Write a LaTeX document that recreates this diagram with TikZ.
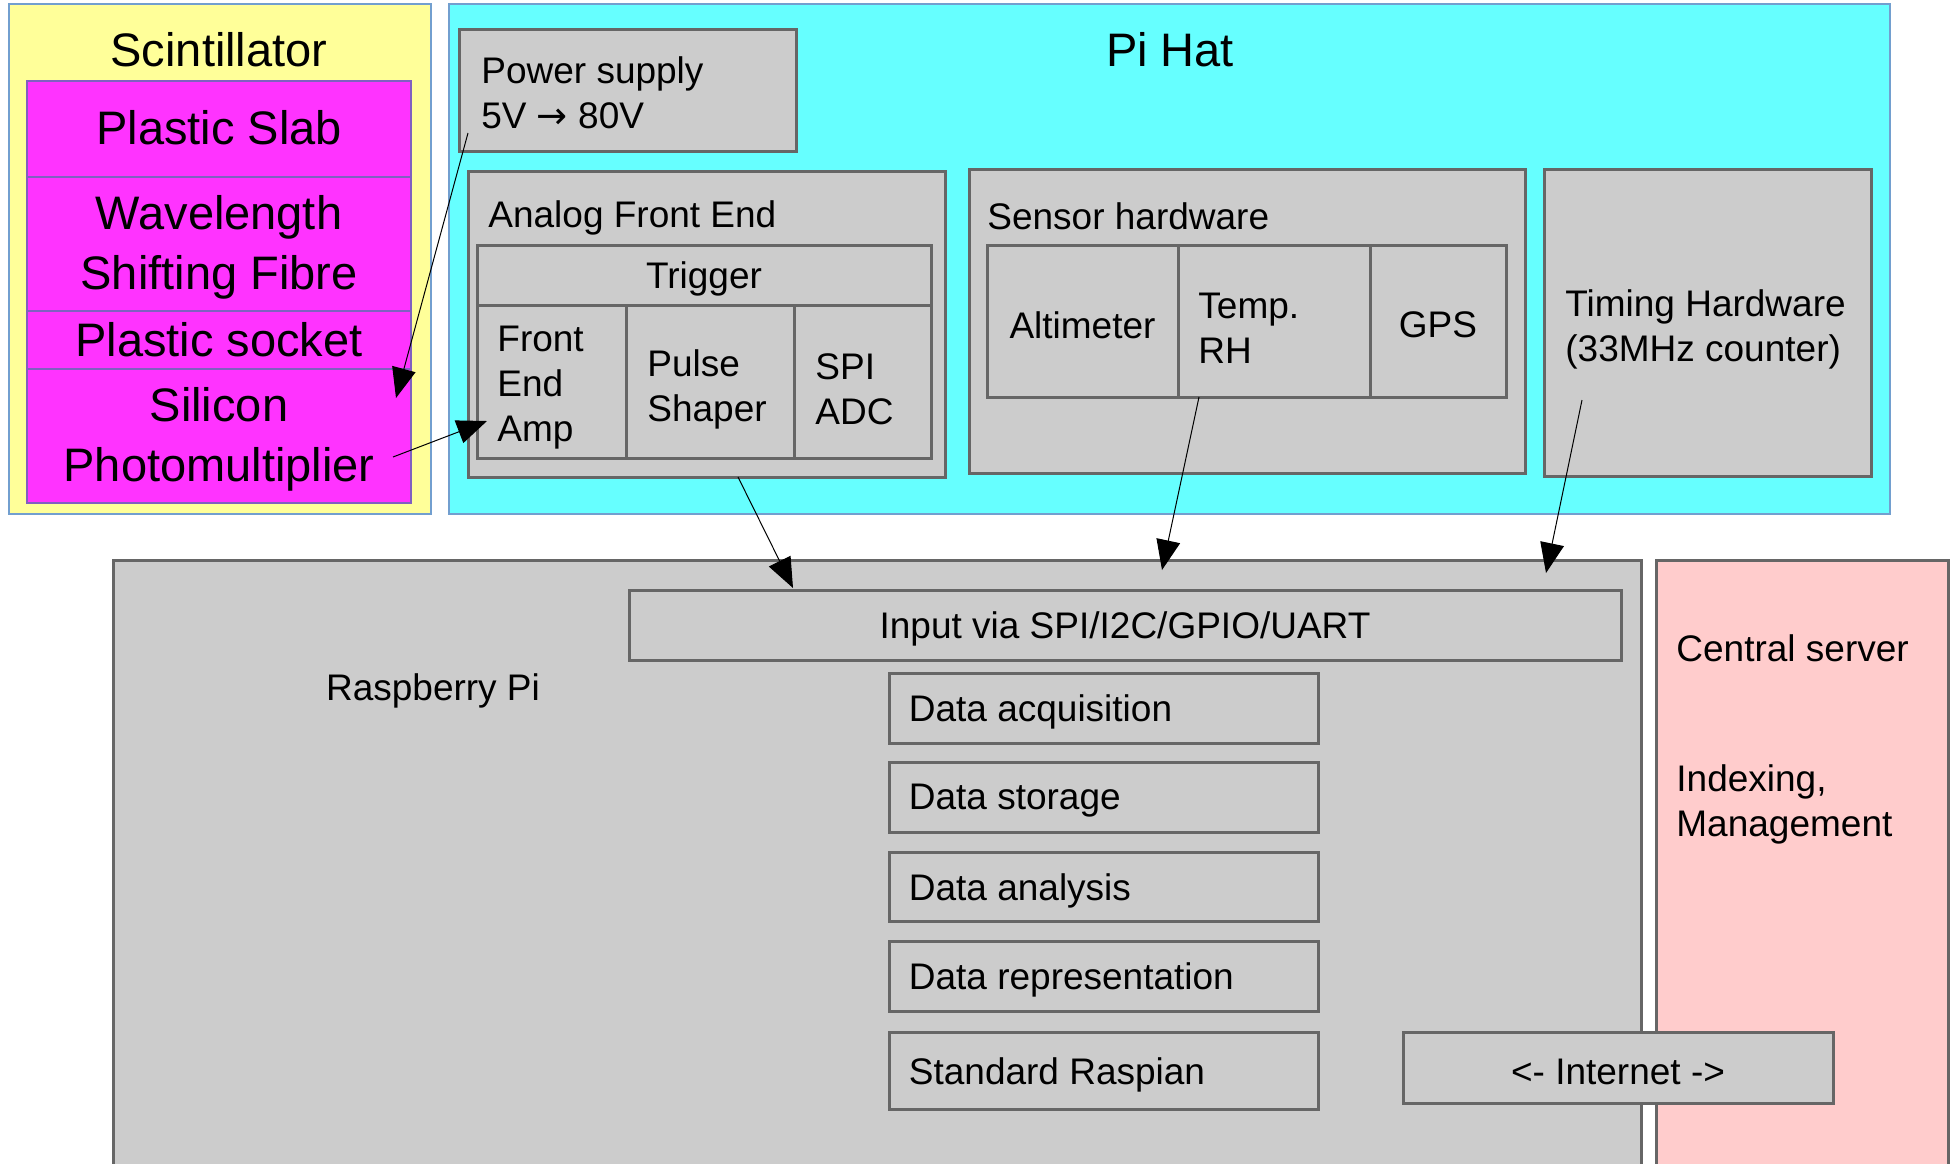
\documentclass[tikz,border=0pt]{standalone}
\usepackage{fontspec}
\setmainfont{Liberation Sans}
\newfontfamily\arrowfont{DejaVu Sans}
\usetikzlibrary{arrows.meta,fit,positioning}

\definecolor{scint}{HTML}{FFFF99}
\definecolor{hat}{HTML}{66FFFF}
\definecolor{slab}{HTML}{FF33FF}
\definecolor{boxgrey}{HTML}{CCCCCC}
\definecolor{edgegrey}{HTML}{666666}
\definecolor{server}{HTML}{FFCCCC}
\definecolor{edgeblue}{HTML}{729FCF}
\definecolor{edgepurple}{HTML}{8060C0}

\tikzstyle{area} = [draw=edgeblue, line width=0.6pt, inner sep=0pt]
\tikzstyle{gb} = [draw=edgegrey, fill=boxgrey, line width=1.5pt, inner sep=0pt]
\tikzstyle{big} = [inner sep=0pt, align=center, font=\fontsize{23.5}{30}\selectfont]
\tikzstyle{lbl} = [inner sep=0pt, align=left, yshift=-2pt,
    font=\fontsize{18.5}{22.5}\selectfont]
\tikzstyle{wire} = [-{Triangle[length=15pt,width=12pt]}, line width=0.5pt]

\begin{document}
\begin{tikzpicture}[x=0.5pt,y=-0.5pt]
  \clip (0,0) rectangle (1952,1163);

  % scintillator
  \node[area, fill=scint, fit={(9,4) (431,514)}] (scint) {};
  \node[big] at (219,50) {Scintillator};
  \node[draw=edgepurple, line width=0.6pt, inner sep=0pt, fill=slab,
        fit={(27,81) (411,503)}] (slab) {};
  \draw[edgepurple, line width=0.6pt] (27,177) -- (411,177)
        (27,311) -- (411,311) (27,369) -- (411,369);
  \node[big] at (219,128) {Plastic Slab};
  \node[big] at (219,247) {Wavelength\\Shifting Fibre};
  \node[big] at (219,340) {Plastic socket};
  \node[big] at (219,439) {Silicon\\Photomultiplier};

  % pi hat
  \node[area, fill=hat, fit={(449,4) (1890,514)}] (hat) {};
  \node[big] at (1170,50) {Pi Hat};

  \node[gb, fit={(459,29) (796,151)}] (psu) {};
  \node[lbl, anchor=west] at (481,89) {Power supply\\5V {\arrowfont →} 80V};

  \node[gb, fit={(468,171) (945,477)}] (afe) {};
  \node[lbl, anchor=west] at (488,214) {Analog Front End};
  \node[gb, fit={(477,245) (931,305)}] (trig) {};
  \node[lbl] at (trig.center) {Trigger};
  \node[gb, fit={(477,305) (626,458)}] (amp) {};
  \node[gb, fit={(626,305) (794,458)}] (shaper) {};
  \node[gb, fit={(794,305) (931,458)}] (adc) {};
  \node[lbl, anchor=west] at (497,384) {Front\\End\\Amp};
  \node[lbl, anchor=west] at (647,385) {Pulse\\Shaper};
  \node[lbl, anchor=west] at (815,385) {SPI\\ADC};

  \node[gb, fit={(969,169) (1525,473)}] (sensor) {};
  \node[lbl, anchor=west] at (987,212) {Sensor hardware};
  \node[gb, fit={(987,245) (1178,397)}] (alti) {};
  \node[gb, fit={(1178,245) (1370,397)}] (rh) {};
  \node[gb, fit={(1370,245) (1506,397)}] (gps) {};
  \node[lbl] at (alti.center) {Altimeter};
  \node[lbl, anchor=west] at (1198,324) {Temp.\\RH};
  \node[lbl] at (gps.center) {GPS};

  \node[gb, fit={(1544,169) (1871,476)}] (timing) {};
  \node[lbl, anchor=west] at (1565,325) {Timing Hardware\\(33MHz counter)};

  % raspberry pi
  \node[gb, fit={(113,560) (1641,1200)}] (rpi) {};
  \node[lbl] at (433,687) {Raspberry Pi};
  \node[gb, fit={(629,590) (1621,660)}] (input) {};
  \node[lbl] at (input.center) {Input via SPI/I2C/GPIO/UART};
  \foreach \ya/\yb/\t [count=\i] in {673/743/Data acquisition,
      762/832/Data storage, 852/921/Data analysis,
      941/1011/Data representation, 1032/1109/Standard Raspian}
  {
    \node[gb, fit={(889,\ya) (1318,\yb)}] (d\i) {};
    \node[lbl, anchor=west] at ([xshift=10.5pt]d\i.west) {\t};
  }

  % central server
  \node[gb, fill=server, fit={(1656,560) (1948,1200)}] (server) {};
  \node[lbl, anchor=west] at (1676,644) {Central server};
  \node[lbl, anchor=west] at (1676,800) {Indexing,\\Management};
  \node[gb, fit={(1403,1032) (1833,1103)}] (net) {};
  \node[lbl] at (net.center) {<- Internet ->};

  % connectors
  \coordinate (psout) at (468,133);
  \coordinate (sipmin) at (396,398);
  \coordinate (sipmout) at (393,457);
  \coordinate (ampin) at (487,421);
  \coordinate (afeout) at (738,477);
  \coordinate (inA) at (793,588);
  \coordinate (rhout) at (1199,397);
  \coordinate (inB) at (1162,570);
  \coordinate (timeout) at (1582,400);
  \coordinate (inC) at (1546,573);
  \draw[wire] (psout) -- (sipmin);
  \draw[wire] (sipmout) -- (ampin);
  \draw[wire] (afeout) -- (inA);
  \draw[wire] (rhout) -- (inB);
  \draw[wire] (timeout) -- (inC);
\end{tikzpicture}
\end{document}
